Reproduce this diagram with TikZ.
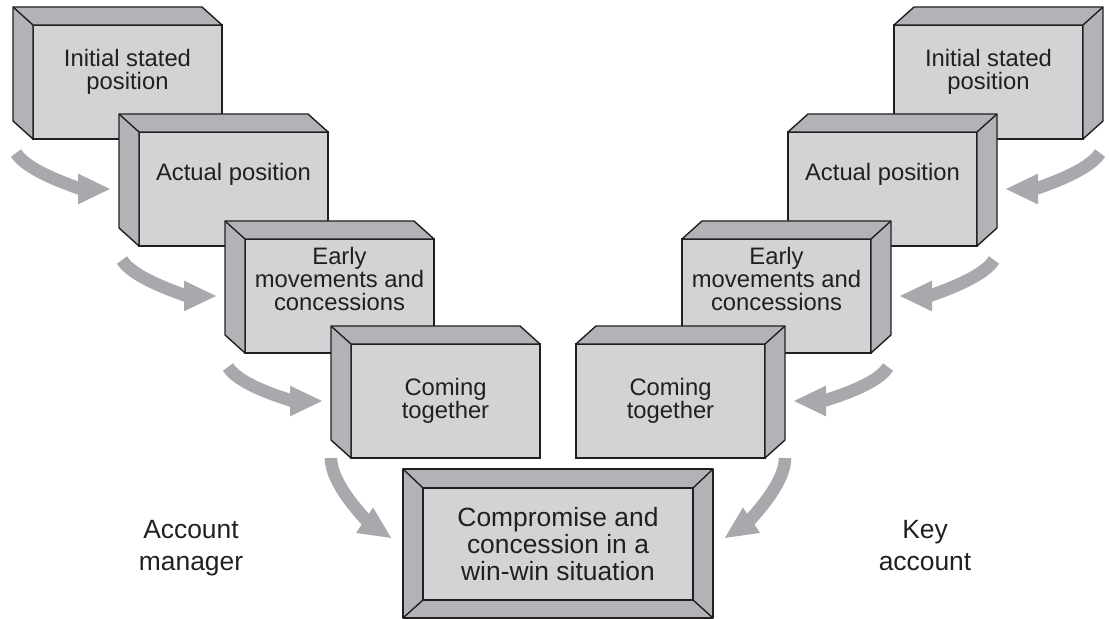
\documentclass[tikz,border=0pt]{standalone}
\usepackage{fontspec}
\setmainfont{Liberation Sans}
\usepackage{tikz}
\usetikzlibrary{arrows.meta}
\usetikzlibrary{calc}
\usetikzlibrary{positioning}

\definecolor{facegray}{RGB}{209,211,212}
\definecolor{sidegray}{RGB}{177,179,182}
\definecolor{arrowgray}{RGB}{167,169,172}
\definecolor{inkgray}{RGB}{35,31,32}

\begin{document}
\begin{tikzpicture}[x=0.5pt, y=0.5pt,
    front/.style={draw=inkgray, fill=facegray, line width=0.7pt, minimum width=94.5pt, minimum height=57pt, inner sep=0pt, outer sep=0pt, anchor=north west},
    side/.style={draw=inkgray, fill=sidegray, line width=0.7pt, line join=round},
    boxtext/.style={inner sep=0pt, align=center, text=inkgray, font=\fontsize{11.9}{11.4}\selectfont},
    sidelabel/.style={inner sep=0pt, anchor=north, align=center, text=inkgray, font=\fontsize{13.2}{16}\selectfont},
    bigarrow/.style={draw=arrowgray, line width=6.3pt, -{Triangle[length=16.5pt, width=14pt]}}]
    \useasboundingbox (0,0) rectangle (1109,-619);

    % manager side, stepping down to the right
    \node[front] (ml1) at (33,-25) {};
    \node[front] (ml2) at (139,-132) {};
    \node[front] (ml3) at (245,-239) {};
    \node[front] (ml4) at (351,-344) {};
    % key account side, stepping down to the left
    \node[front] (ka1) at (894,-25) {};
    \node[front] (ka2) at (788,-132) {};
    \node[front] (ka3) at (682,-239) {};
    \node[front] (ka4) at (576,-344) {};

    % depth faces: left and top for the manager, right and top for the account
    \foreach \b in {ml1,ml2,ml3,ml4} {
        \filldraw[side] (\b.south west) -- ++(-20,18) -- ++(0,114) -- ++(189,0) -- (\b.north east) -- (\b.north west) -- cycle;
        \draw[side] (\b.north west) -- ++(-20,18);
    }
    \foreach \b in {ka1,ka2,ka3,ka4} {
        \filldraw[side] (\b.north west) -- ++(20,18) -- ++(189,0) -- ++(0,-114) -- (\b.south east) -- (\b.north east) -- cycle;
        \draw[side] (\b.north east) -- ++(20,18);
    }

    \node[boxtext, below=12pt of ml1.north] (ml1t) {Initial stated\\position};
    \node[boxtext, below=15.5pt of ml2.north] (ml2t) {Actual position};
    \node[boxtext, below=4pt of ml3.north] (ml3t) {Early\\movements and\\concessions};
    \node[boxtext, below=17pt of ml4.north] (ml4t) {Coming\\together};
    \node[boxtext, below=12pt of ka1.north] (ka1t) {Initial stated\\position};
    \node[boxtext, below=15.5pt of ka2.north] (ka2t) {Actual position};
    \node[boxtext, below=4pt of ka3.north] (ka3t) {Early\\movements and\\concessions};
    \node[boxtext, below=17pt of ka4.north] (ka4t) {Coming\\together};

    % bevelled box at the bottom
    \node[side, minimum width=155pt, minimum height=74.5pt, inner sep=0pt, outer sep=0pt] (deal) at (558,-543.5) {};
    \node[front, anchor=center, minimum width=135pt, minimum height=56pt, align=center, text=inkgray, font=\fontsize{13.2}{13.3}\selectfont] (dealface) at (558,-544) {Compromise and\\concession in a\\win-win situation};
    \foreach \c in {north west,north east,south west,south east}
        \draw[side] (deal.\c) -- (dealface.\c);

    \node[sidelabel] (mgr) at (191,-520) {Account\\manager};
    \node[sidelabel] (key) at (925,-520) {Key\\account};

    % curved arrows between the steps
    \foreach \a/\b in {ml1/ml2,ml2/ml3,ml3/ml4}
        \draw[bigarrow] ($(\a.south west)+(-17,-14)$) .. controls +(12,-20) and +(-28,0) .. ($(\b.west)+(-28,0)$);
    \foreach \a/\b in {ka1/ka2,ka2/ka3,ka3/ka4}
        \draw[bigarrow] ($(\a.south east)+(17,-14)$) .. controls +(-12,-20) and +(28,0) .. ($(\b.east)+(28,0)$);
    \draw[bigarrow] ($(ml4.south west)+(-20,0)$) .. controls +(0,-30) and +(-18,12) .. ($(deal.west)+(-11,5)$);
    \draw[bigarrow] ($(ka4.south east)+(20,0)$) .. controls +(0,-30) and +(18,12) .. ($(deal.east)+(11,5)$);
\end{tikzpicture}
\end{document}
